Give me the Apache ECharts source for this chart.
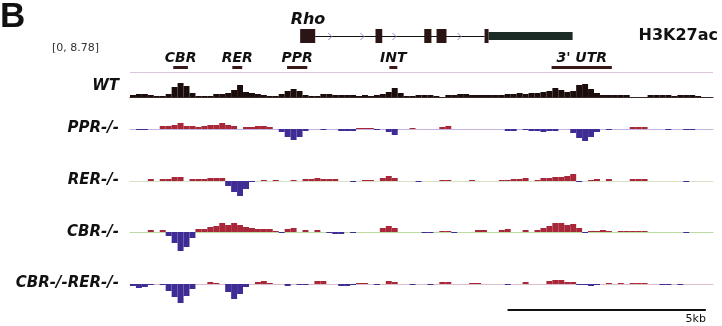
<!DOCTYPE html>
<html>
<head>
<meta charset="utf-8">
<script src="https://cdn.jsdelivr.net/npm/echarts@6/dist/echarts.min.js"></script>
<style>
  html, body { margin: 0; padding: 0; background: #fff; }
  #chart { width: 722px; height: 326px; }
</style>
</head>
<body>
<div id="chart"></div>
<script>
// signal in 0.15 kb bins (heights, + red / - blue)
const BIN_KB = 0.15
const wt = [2, 3, 3, 2, 1, 1, 3, 10, 14, 11,
  4, 1, 1, 1, 3, 3, 4, 7, 12, 5,
  4, 3, 2, 1, 1, 3, 6, 8, 6, 2,
  1, 1, 3, 3, 2, 2, 2, 2, 1, 2,
  1, 2, 3, 5, 9, 4, 1, 1, 2, 2,
  2, 1, 0, 2, 2, 3, 3, 2, 2, 2,
  2, 2, 2, 3, 3, 4, 3, 4, 4, 5,
  6, 9, 7, 5, 6, 12, 13, 8, 4, 2,
  2, 2, 2, 2, 0, 0, 0, 2, 2, 2,
  2, 1, 2, 2, 2, 1, 0, 0]
const ppr = [0, -1, -1, 0, 0, 3, 3, 4, 6, 3,
  3, 2, 3, 4, 4, 6, 4, 3, 0, 2,
  2, 3, 3, 2, 0, -3, -8, -11, -8, -2,
  0, 0, -1, 0, 0, -2, -2, -2, 1, 1,
  1, -1, 0, -3, -6, 0, 0, 1, 0, 0,
  0, 0, 2, 3, 0, 0, 0, 0, 0, 0,
  0, 0, 0, -2, -2, 0, -1, -2, -2, -3,
  -2, -2, 0, 0, -4, -9, -12, -8, -3, 0,
  -1, 0, 0, 0, 2, 2, 2, 0, 0, 0,
  -1, 0, 0, -1, -1, 0, 0, 0]
const rer = [0, 0, 0, 2, 0, 2, 2, 4, 4, 0,
  2, 2, 2, 3, 3, 3, -5, -11, -15, -8,
  -1, 0, 1, 0, 1, 0, 0, 1, 0, 2,
  2, 3, 2, 2, 2, 0, 0, -1, 0, 1,
  1, 0, 3, 5, 3, 0, 0, 0, -1, 0,
  0, 0, 1, 1, 0, 0, 0, 1, 0, 0,
  0, 0, 1, 1, 2, 2, 3, 0, 1, 3,
  3, 4, 4, 5, 7, -1, 0, 1, 2, 0,
  2, 0, 0, 0, 2, 2, 2, 0, 0, 0,
  0, 0, 0, -1, 0, 0, 0, 0]
const cbr = [0, 0, 0, 2, 0, 2, -4, -11, -19, -15,
  -6, 3, 3, 5, 6, 9, 7, 9, 7, 5,
  4, 3, 3, 3, 1, -1, 3, 4, 0, 2,
  0, 2, 0, -1, -2, -2, 0, -1, 0, 0,
  0, 0, 4, 6, 4, 0, 0, 0, 0, -1,
  -1, 0, 1, 1, -1, 0, 0, 0, 2, 2,
  0, 0, 2, 3, 0, 0, 2, 0, 2, 4,
  6, 9, 9, 7, 8, 4, -1, 1, 1, 2,
  1, 0, 1, 1, 1, 1, 1, 0, 0, 0,
  0, 0, 0, -1, 0, 0, 0, 0]
const cbrRer = [-2, -4, -3, -1, 0, -1, -7, -13, -19, -12,
  -5, 0, 0, 2, 1, 0, -8, -15, -10, -3,
  0, 2, 3, 1, 0, 0, -2, 0, -1, -1,
  0, 3, 3, 0, 0, -2, -2, -1, 1, 1,
  0, -1, 0, 3, 2, 0, 0, -1, 0, 0,
  -1, 0, 2, 2, 0, 0, 0, 1, 1, 0,
  0, 0, 0, -1, 0, 0, 2, 0, 0, 0,
  3, 4, 4, 2, 2, -1, -1, -2, -1, 0,
  1, 0, 1, 0, 1, 1, 1, 0, 0, -1,
  -1, 0, -1, 0, 0, 0, 0, 0]
const trackNames = ['WT', 'PPR-/-', 'RER-/-', 'CBR-/-', 'CBR-/-RER-/-']

// gene model and regions, in kb
const exons = [[4.29, 4.67], [6.19, 6.36], [7.42, 7.60], [7.73, 7.98], [8.94, 9.04]]
const utr = [[9.04, 11.16]]
const intron = [[4.67, 8.94]]
const strandMarks = [5.05, 5.86, 6.67, 8.31]
const regions = [['CBR', 1.09, 1.46], ['RER', 2.58, 2.83], ['PPR', 3.96, 4.47], ['INT', 6.54, 6.74], ["3' UTR", 10.63, 12.15]]
const scaleBar = [[9.52, 14.52, '5kb']]

const RED = '#a8283a'
const BLUE = '#3f2c94'
const LEFT = 130
const WIDTH = 583
const bins = wt.map((_, i) => i)
const totalKb = wt.length * BIN_KB

// track layout: top of grid, px above and below zero
const tracks = [
  { data: wt, top: 72, up: 25, down: 1, fill: '#1b0d0b', axis: '#3a2a2a', labelY: 86 },
  { data: ppr, top: 109, up: 20, down: 20, axis: '#c4b4dc', labelY: 128 },
  { data: rer, top: 161, up: 20, down: 20, axis: '#d8e0c8', labelY: 180 },
  { data: cbr, top: 212, up: 20, down: 20, axis: '#bcdca4', labelY: 232 },
  { data: cbrRer, top: 264, up: 20, down: 20, axis: '#dcbcc8', labelY: 283 },
]

const grid = [{ left: LEFT, width: WIDTH, top: 0, height: 326 }]
const xAxis = [{ type: 'value', gridIndex: 0, min: 0, max: totalKb, show: false }]
const yAxis = [{ type: 'value', gridIndex: 0, min: 0, max: 326, show: false }]
const series = []

const px = (api, kb) => api.coord([kb, 0])[0]

// overlay: gene model, region bars, scale bar
series.push({
  type: 'custom', xAxisIndex: 0, yAxisIndex: 0, silent: true, clip: false, data: intron,
  renderItem: (p, api) => ({
    type: 'line', shape: { x1: px(api, api.value(0)), y1: 36.5, x2: px(api, api.value(1)), y2: 36.5 },
    style: { stroke: '#111', lineWidth: 1 }
  })
})
series.push({
  type: 'custom', xAxisIndex: 0, yAxisIndex: 0, silent: true, clip: false,
  data: strandMarks.map(v => [v]),
  renderItem: (p, api) => {
    const x = px(api, api.value(0))
    return { type: 'polyline', shape: { points: [[x - 2, 33], [x + 1.5, 36.5], [x - 2, 40]] },
      style: { stroke: '#8a90c4', lineWidth: 1, fill: null } }
  }
})
series.push({
  type: 'custom', xAxisIndex: 0, yAxisIndex: 0, silent: true, clip: false, data: exons,
  renderItem: (p, api) => {
    const x0 = px(api, api.value(0)), x1 = px(api, api.value(1))
    return { type: 'rect', shape: { x: x0, y: 29, width: x1 - x0, height: 14 }, style: { fill: '#2a1414' } }
  }
})
series.push({
  type: 'custom', xAxisIndex: 0, yAxisIndex: 0, silent: true, clip: false, data: utr,
  renderItem: (p, api) => {
    const x0 = px(api, api.value(0)), x1 = px(api, api.value(1))
    return { type: 'rect', shape: { x: x0, y: 32, width: x1 - x0, height: 8 }, style: { fill: '#1d2b26' } }
  }
})
series.push({
  type: 'custom', xAxisIndex: 0, yAxisIndex: 0, silent: true, clip: false,
  data: regions.map(r => [r[1], r[2], r[0]]),
  renderItem: (p, api) => {
    const x0 = px(api, api.value(0)), x1 = px(api, api.value(1))
    return {
      type: 'group', children: [
        { type: 'rect', shape: { x: x0, y: 66, width: x1 - x0, height: 3 }, style: { fill: '#3a1818' } },
        { type: 'text', style: { x: (x0 + x1) / 2, y: 58, text: api.value(2), align: 'center', verticalAlign: 'middle',
          font: 'italic bold 14px "DejaVu Sans"', fill: '#111' } }
      ]
    }
  }
})
series.push({
  type: 'custom', xAxisIndex: 0, yAxisIndex: 0, silent: true, clip: false, data: scaleBar,
  renderItem: (p, api) => {
    const x0 = px(api, api.value(0)), x1 = px(api, api.value(1))
    return {
      type: 'group', children: [
        { type: 'line', shape: { x1: x0, y1: 310, x2: x1, y2: 310 }, style: { stroke: '#111', lineWidth: 2 } },
        { type: 'text', style: { x: x1, y: 319, text: api.value(2), align: 'right', verticalAlign: 'middle',
          font: '11px "DejaVu Sans"', fill: '#111' } }
      ]
    }
  }
})

// signal tracks
tracks.forEach((t, k) => {
  const i = k + 1
  grid.push({ left: LEFT, width: WIDTH, top: t.top, height: t.up + t.down })
  xAxis.push({
    type: 'category', gridIndex: i, data: bins, boundaryGap: true,
    axisLine: { show: true, onZero: true, lineStyle: { color: t.axis, width: 1 } },
    axisTick: { show: false }, axisLabel: { show: false }, splitLine: { show: false }
  })
  yAxis.push({ type: 'value', gridIndex: i, min: -t.down, max: t.up, show: false, splitLine: { show: false } })
  const s = {
    type: 'bar', xAxisIndex: i, yAxisIndex: i, data: t.data, barWidth: '100%', silent: true,
    itemStyle: { color: p => t.fill ? t.fill : (p.value >= 0 ? RED : BLUE) }
  }
  if (k === 0) {
    s.markLine = { silent: true, symbol: 'none', label: { show: false },
      lineStyle: { color: '#dcc4dc', width: 1, type: 'solid' }, data: [{ yAxis: t.up }] }
  }
  series.push(s)
})

const graphic = [
  { type: 'text', left: 0, top: 0, style: { text: 'B', font: 'bold 35px "Liberation Sans"', fill: '#111' } },
  { type: 'text', x: 52, y: 48, style: { text: '[0, 8.78]', font: '11px "DejaVu Sans"', fill: '#333', verticalAlign: 'middle' } },
  { type: 'text', x: 308, y: 20, style: { text: 'Rho', font: 'italic bold 16px "DejaVu Sans"', fill: '#111', align: 'center', verticalAlign: 'middle' } },
  { type: 'text', x: 718, y: 36, style: { text: 'H3K27ac', font: 'bold 16px "DejaVu Sans"', fill: '#111', align: 'right', verticalAlign: 'middle' } },
].concat(tracks.map((t, k) => ({
  type: 'text', x: 119, y: t.labelY,
  style: { text: trackNames[k], font: 'italic bold 15px "DejaVu Sans"', fill: '#111', align: 'right', verticalAlign: 'middle' }
})))

const chart = echarts.init(document.getElementById('chart'))
chart.setOption({
  animation: false,
  backgroundColor: '#fff',
  grid, xAxis, yAxis, series, graphic
})
</script>
</body>
</html>
